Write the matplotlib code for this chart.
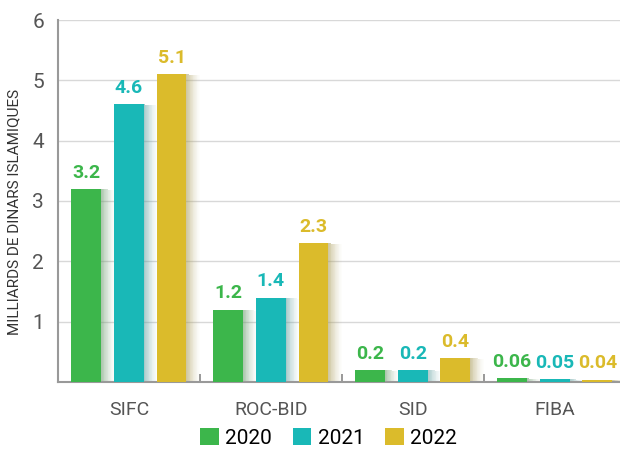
import matplotlib.pyplot as plt
import numpy as np
from matplotlib import font_manager

names = {f.name for f in font_manager.fontManager.ttflist}
fam = [n for n in ["Liberation Sans Narrow", "DejaVu Sans Condensed", "Roboto", "DejaVu Sans"] if n in names]
plt.rcParams['font.family'] = fam

categories = ["SIFC", "ROC-BID", "SID", "FIBA"]
years = ["2020", "2021", "2022"]
v2020 = [3.2, 1.2, 0.2, 0.06]
v2021 = [4.6, 1.4, 0.2, 0.05]
v2022 = [5.1, 2.3, 0.4, 0.04]
labels2020 = ["3.2", "1.2", "0.2", "0.06"]
labels2021 = ["4.6", "1.4", "0.2", "0.05"]
labels2022 = ["5.1", "2.3", "0.4", "0.04"]
colors = ["#3cb64b", "#19b8b7", "#dbbb2b"]
shadows = ["#6a9a6c", "#5f9e9e", "#a89a55"]

fig = plt.figure(figsize=(6.2, 4.53), dpi=100)
ax = fig.add_axes([58 / 620, 1 - 382 / 453, 1 - 58 / 620, (382 - 20) / 453])

x = np.arange(len(categories))
w = 0.21
off = 0.3
series = [v2020, v2021, v2022]
texts = [labels2020, labels2021, labels2022]
n = 18
step = 0.0055
for i, (vals, labs, c, sc) in enumerate(zip(series, texts, colors, shadows)):
    pos = x + (i - 1) * off
    # soft shadow fading out to the right of each bar
    for k in range(n):
        ax.bar(pos + w / 2 + step * (k + 0.5), np.array(vals) - 0.02 * k / n, width=step,
               bottom=0, color=sc, alpha=0.55 * (1 - k / n) ** 1.5, zorder=2, linewidth=0)
    ax.bar(pos, vals, width=w, color=c, zorder=3, linewidth=0, label=years[i])
    for p, v, t in zip(pos, vals, labs):
        ax.text(p, v + 0.12, t, ha='center', va='bottom', color=c,
                fontsize=14, fontweight='bold')

ax.set_xlim(-0.5, 3.46)
ax.set_ylim(0, 6)
ax.set_yticks([1, 2, 3, 4, 5, 6])
ax.set_xticks(x)
ax.set_xticklabels(categories)
ax.set_xticks([0.5, 1.5, 2.5], minor=True)
ax.tick_params(axis='x', which='major', length=0, pad=14, labelsize=14, labelcolor='#555555')
ax.tick_params(axis='x', which='minor', length=6, direction='in', color='#888888', width=1.2)
ax.tick_params(axis='y', length=0, pad=10, labelsize=15, labelcolor='#555555')
ax.grid(axis='y', color='#d8d8d8', linewidth=1, zorder=0)
ax.set_axisbelow(True)
for s in ['top', 'right']:
    ax.spines[s].set_visible(False)
for s in ['left', 'bottom']:
    ax.spines[s].set_color('#999999')
    ax.spines[s].set_linewidth(1.5)
ax.set_ylabel("MILLIARDS DE DINARS ISLAMIQUES", fontsize=11, color='#333333', labelpad=4)
ax.yaxis.set_label_coords(-0.065, 0.47)

handles, labs = ax.get_legend_handles_labels()
fig.legend(handles, labs, loc='center', bbox_to_anchor=(0.53, 1 - 438 / 453), ncol=3,
           frameon=False, fontsize=15, handlelength=0.9, handleheight=0.9,
           handletextpad=0.3, columnspacing=1.0)

fig.savefig("out.png", dpi=100)
